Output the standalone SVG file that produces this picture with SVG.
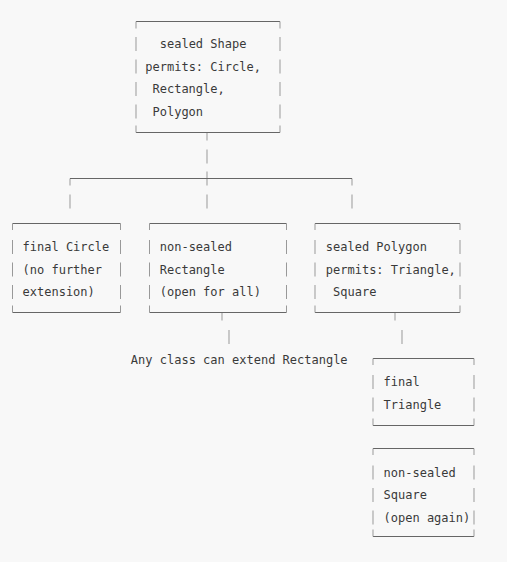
<svg xmlns="http://www.w3.org/2000/svg" width="507" height="562" viewBox="0 0 507 562">
<style>
.t{font-family:"DejaVu Sans Mono","Liberation Mono",monospace;font-size:12px;fill:#3a3a3a}
.h{stroke:#666;stroke-width:1;fill:none}
.v{stroke:#999;stroke-width:1;fill:none}
</style>
<rect width="507" height="562" fill="#f8f8f8"/>
<g id="connectors">
<path class="v" d="M207,132.5V140.5M207,149.5V163.5M70,178.5V185.5M352,178.5V185.5M207,171.5V185.5M70,194.5V208.5M207,194.5V208.5M352,194.5V208.5M222,312.5V320.5M229,330V344M395,312.5V320.5M402,330V344"/>
<path class="h" d="M70,178.5H352"/>
</g>
<g id="shape">
<path class="h" d="M136,21.5H280M136,132.5H280"/>
<path class="v" d="M136,21.5V28.5M280,21.5V28.5M136,37V51M280,37V51M136,59.5V73.5M280,59.5V73.5M136,82V96M280,82V96M136,104.5V118.5M280,104.5V118.5M136,125.5V132.5M280,125.5V132.5"/>
<text class="t" x="159.74" y="48">sealed Shape</text>
<text class="t" x="145.3" y="70.5">permits: Circle,</text>
<text class="t" x="152.5" y="93">Rectangle,</text>
<text class="t" x="152.5" y="115.5">Polygon</text>
</g>
<g id="circle">
<path class="h" d="M12.5,223.5H120.5M12.5,312.5H120.5"/>
<path class="v" d="M12.5,223.5V230M120.5,223.5V230M12.5,240V254M120.5,240V254M12.5,262.5V276.5M120.5,262.5V276.5M12.5,285V299M120.5,285V299M12.5,305.5V312.5M120.5,305.5V312.5"/>
<text class="t" x="22.56" y="251">final Circle</text>
<text class="t" x="22.56" y="273.5">(no further</text>
<text class="t" x="22.56" y="296">extension)</text>
</g>
<g id="rectangle">
<path class="h" d="M149.5,223.5H286.5M149.5,312.5H286.5"/>
<path class="v" d="M149.5,223.5V230M286.5,223.5V230M149.5,240V254M286.5,240V254M149.5,262.5V276.5M286.5,262.5V276.5M149.5,285V299M286.5,285V299M149.5,305.5V312.5M286.5,305.5V312.5"/>
<text class="t" x="159.74" y="251">non-sealed</text>
<text class="t" x="159.74" y="273.5">Rectangle</text>
<text class="t" x="159.74" y="296">(open for all)</text>
</g>
<g id="polygon">
<path class="h" d="M315,223.5H460M315,312.5H460"/>
<path class="v" d="M315,223.5V230M460,223.5V230M315,240V254M460,240V254M315,262.5V276.5M460,262.5V276.5M315,285V299M460,285V299M315,305.5V312.5M460,305.5V312.5"/>
<text class="t" x="325.8" y="251">sealed Polygon</text>
<text class="t" x="325.8" y="273.5">permits: Triangle,</text>
<text class="t" x="333.02" y="296">Square</text>
</g>
<g id="note">
<text class="t" x="130.86" y="363.7">Any class can extend Rectangle</text>
</g>
<g id="triangle">
<path class="h" d="M373,358.5H474M373,425.5H474"/>
<path class="v" d="M373,358.5V365M474,358.5V365M373,375V389M474,375V389M373,397.5V411.5M474,397.5V411.5M373,418.5V425.5M474,418.5V425.5"/>
<text class="t" x="383.56" y="386.3">final</text>
<text class="t" x="383.56" y="408.8">Triangle</text>
</g>
<g id="square">
<path class="h" d="M373,448.5H474M373,536.5H474"/>
<path class="v" d="M373,448.5V455M474,448.5V455M373,465.5V479.5M474,465.5V479.5M373,488V502M474,488V502M373,510.5V524.5M474,510.5V524.5M373,529.5V536.5M474,529.5V536.5"/>
<text class="t" x="383.56" y="476.5">non-sealed</text>
<text class="t" x="383.56" y="499">Square</text>
<text class="t" x="383.56" y="521.5">(open again)</text>
</g>
</svg>
